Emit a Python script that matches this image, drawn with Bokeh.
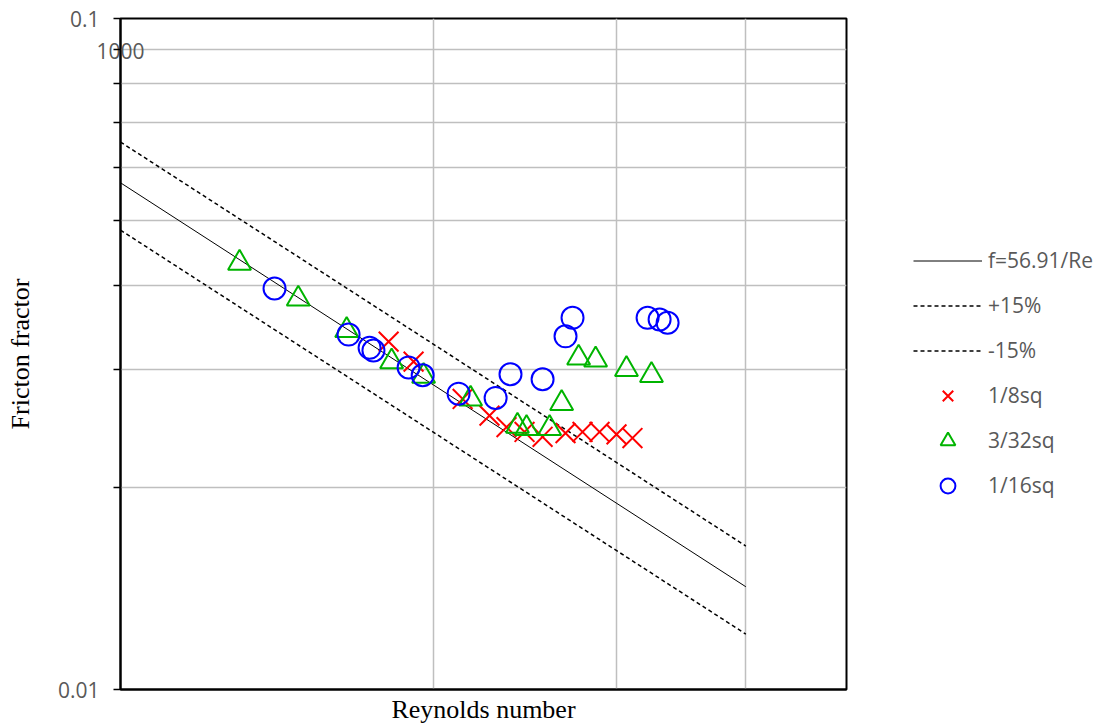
from bokeh.plotting import figure
from bokeh.layouts import row
from bokeh.models import FixedTicker, Legend, LegendItem, LogAxis
from bokeh.embed import file_html
from bokeh.resources import INLINE

# ---- data ----
fit_re = [1000, 4000]
fit_f = [0.05691, 0.0142275]          # f = 56.91/Re
upper_f = [0.0654465, 0.0163616]      # +15%
lower_f = [0.0483735, 0.0120934]      # -15%

re_18 = [1812, 1915, 2135, 2266, 2353, 2449, 2549, 2682, 2785, 2892, 3003, 3111]
f_18 = [0.0330, 0.0308, 0.0271, 0.0256, 0.0246, 0.0242, 0.0238, 0.0241, 0.0242, 0.0242, 0.0240, 0.0237]

re_332 = [1302, 1483, 1651, 1824, 1958, 2173, 2411, 2460, 2589, 2659, 2761, 2867, 3070, 3245]
f_332 = [0.0432, 0.0382, 0.0343, 0.0308, 0.0293, 0.0271, 0.0247, 0.0245, 0.0245, 0.0267, 0.0312, 0.0310, 0.0300, 0.0294]

re_16 = [1407, 1658, 1737, 1752, 1894, 1954, 2116, 2297, 2374, 2549, 2682, 2724, 3217, 3304, 3363]
f_16 = [0.0396, 0.0338, 0.0323, 0.0320, 0.0302, 0.0294, 0.0276, 0.0272, 0.0295, 0.0290, 0.0336, 0.0358, 0.0358, 0.0356, 0.0352]

y_ticks = [0.01, 0.02, 0.03, 0.04, 0.05, 0.06, 0.07, 0.08, 0.09, 0.1]
y_tick_labels = {0.01: "0.01", 0.1: "0.1"}
x_grid = [2000, 3000, 4000]
x_tick_labels = {1000: "1000"}
series_names = ["f=56.91/Re", "+15%", "-15%", "1/8sq", "3/32sq", "1/16sq"]

GRAY = "#595959"
TICKFONT = "Open Sans"
H = 727

p = figure(width=850, height=H, x_axis_type="log", y_axis_type="log",
           x_range=(1000, 5000), y_range=(0.01, 0.1),
           output_backend="svg", toolbar_location=None,
           min_border_left=120, min_border_right=4,
           min_border_top=18, min_border_bottom=H - 689)

p.outline_line_color = "black"
p.outline_line_width = 2
p.background_fill_color = "white"
p.border_fill_color = "white"

# y axis
p.yaxis.ticker = FixedTicker(ticks=y_ticks)
p.yaxis.major_label_overrides = {t: y_tick_labels.get(t, "") for t in y_ticks}
p.yaxis.major_tick_out = 7
p.yaxis.major_tick_in = 0
p.yaxis.minor_tick_out = 0
p.yaxis.minor_tick_in = 0
p.yaxis.axis_line_width = 2
p.yaxis.major_tick_line_width = 1.5
p.yaxis.major_label_standoff = 14
p.yaxis.major_label_text_font = TICKFONT
p.yaxis.major_label_text_font_size = "21px"
p.yaxis.major_label_text_color = GRAY
p.yaxis.axis_label = "Fricton fractor"
p.yaxis.axis_label_text_font = "Liberation Serif"
p.yaxis.axis_label_text_font_size = "26px"
p.yaxis.axis_label_text_font_style = "normal"
p.yaxis.axis_label_text_color = "black"
p.yaxis.axis_label_standoff = 20

# x axis
p.xaxis.ticker = FixedTicker(ticks=[])
p.xaxis.major_tick_out = 0
p.xaxis.major_tick_in = 0
p.xaxis.minor_tick_out = 0
p.xaxis.minor_tick_in = 0
p.xaxis.axis_line_width = 2
p.xaxis.major_label_standoff = 0
p.xaxis.axis_label = "Reynolds number"
p.xaxis.axis_label_text_font = "Liberation Serif"
p.xaxis.axis_label_text_font_size = "26px"
p.xaxis.axis_label_text_font_style = "normal"
p.xaxis.axis_label_text_color = "black"
p.xaxis.axis_label_standoff = 5

# the stray "1000" category label that sits inside the top-left of the plot
top_axis = LogAxis(ticker=FixedTicker(ticks=list(x_tick_labels.keys())),
                   major_label_overrides=x_tick_labels,
                   axis_line_color=None, major_tick_out=0, major_tick_in=0,
                   minor_tick_out=0, minor_tick_in=0,
                   major_label_standoff=-40,
                   major_label_text_font=TICKFONT,
                   major_label_text_font_size="21px",
                   major_label_text_color=GRAY)
p.add_layout(top_axis, "above")

# grids
p.xgrid.ticker = FixedTicker(ticks=x_grid)
p.xgrid.grid_line_color = "#bfbfbf"
p.xgrid.grid_line_width = 1.5
p.ygrid.grid_line_color = "#bfbfbf"
p.ygrid.grid_line_width = 1.5

# lines
LINE_STYLES = [dict(line_color="black", line_width=1),
               dict(line_color="black", line_width=1.5, line_dash="4 3"),
               dict(line_color="black", line_width=1.5, line_dash="4 3")]
p.line(fit_re, fit_f, **LINE_STYLES[0])
p.line(fit_re, upper_f, **LINE_STYLES[1])
p.line(fit_re, lower_f, **LINE_STYLES[2])

# markers
MARKER_STYLES = [dict(marker="x", line_color="#ff0000", line_width=2),
                 dict(marker="triangle", line_color="#00b400", fill_color=None, line_width=2),
                 dict(marker="circle", line_color="#0000ff", fill_color=None, line_width=2)]
p.scatter(re_18, f_18, size=28, **MARKER_STYLES[0])
p.scatter(re_332, f_332, size=23, **MARKER_STYLES[1])
p.scatter(re_16, f_16, size=22, **MARKER_STYLES[2])

# legend panel to the right (proxy renderers hold a single NaN point, so they draw nothing)
nan = float("nan")
lg = figure(width=250, height=H, x_range=(0, 1), y_range=(0, 1),
            output_backend="svg", toolbar_location=None,
            x_axis_location=None, y_axis_location=None,
            min_border=0, outline_line_color=None)
lg.grid.visible = False
lg.border_fill_color = "white"
proxies = [lg.line([nan], [nan], **st) for st in LINE_STYLES]
proxies += [lg.scatter([nan], [nan], **st) for st in MARKER_STYLES]
legend = Legend(items=[LegendItem(label=n, renderers=[r]) for n, r in zip(series_names, proxies)],
                location=(63, 185.5), glyph_width=69, glyph_height=37, spacing=8,
                label_standoff=6, padding=0, margin=0,
                border_line_color=None, background_fill_alpha=0,
                label_text_font=TICKFONT, label_text_font_size="21px",
                label_text_color=GRAY)
lg.add_layout(legend, "center")

layout = row(p, lg, spacing=0)
open("out.html", "w").write(file_html(layout, INLINE))
